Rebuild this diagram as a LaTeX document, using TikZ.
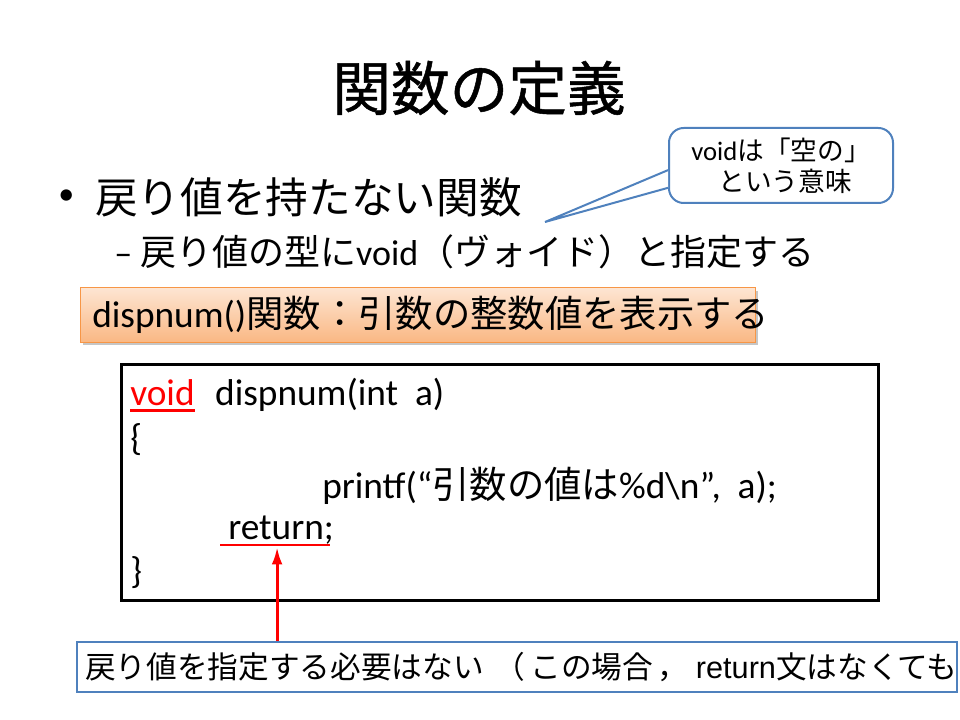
\documentclass[tikz,border=0pt]{standalone}
\usepackage{fontspec}
\setmainfont{Carlito}
\newfontfamily\jp{Noto Sans CJK JP}
\newfontfamily\jptitle[FakeBold=0.8]{Noto Sans CJK JP}
\newfontfamily\arialfont{Liberation Sans}
\usetikzlibrary{arrows.meta,positioning,shadows,calc}

\definecolor{calloutblue}{RGB}{79,129,189}
\definecolor{boxorange}{RGB}{247,150,70}
\definecolor{peachtop}{RGB}{253,229,210}
\definecolor{peachbot}{RGB}{250,184,132}

\tikzset{
  slidetitle/.style={font=\jptitle\fontsize{44}{52}\selectfont, inner sep=0pt},
  lvlone/.style={font=\fontsize{32}{38}\selectfont, anchor=west, inner sep=0pt},
  lvltwo/.style={font=\fontsize{27}{32}\selectfont, anchor=west, inner sep=0pt},
  code/.style={font=\fontsize{28}{34}\selectfont, anchor=base west, inner sep=0pt},
  callout/.style={draw=calloutblue, line width=1.5pt, fill=white, rounded corners=11pt,
    minimum width=168pt, minimum height=56.25pt, align=center, inner sep=0pt,
    font=\fontsize{20}{23}\selectfont},
  orangebox/.style={draw=boxorange, line width=0.75pt, top color=peachtop, bottom color=peachbot,
    minimum width=506.25pt, minimum height=40.5pt, inner sep=0pt,
    drop shadow={shadow xshift=2pt, shadow yshift=-2pt, opacity=0.45}},
  codebox/.style={draw=black, line width=2.25pt, minimum width=567.75pt, minimum height=177pt, inner sep=0pt},
  notebox/.style={draw=calloutblue, line width=1.5pt, minimum width=660pt, minimum height=37.5pt, inner sep=0pt},
  notetext/.style={font=\jp\fontsize{23}{27}\selectfont, anchor=west, inner sep=0pt},
  redline/.style={draw=red, line width=1.8pt},
  redarrow/.style={draw=red, line width=2.25pt, -{Latex[length=13pt,width=8pt]}}
}

\begin{document}
\begin{tikzpicture}[x=0.75pt,y=-0.75pt]
  %one unit is one pixel of the 960x720 slide, y runs downwards
  \useasboundingbox (0,0) rectangle (960,720);

  \node[slidetitle] (title) at (479,88) {関数の定義};

  \node[lvlone, font=\fontsize{24}{28}\selectfont] (dot) at (58,197) {•};
  \node[lvlone] (lvla) at (95,197) {\jp 戻り値を持たない関数};
  \node[lvltwo] (lvlb) at (114,252) {–\hspace{6pt}{\jp 戻り値の型に}void{\jp （ヴォイド）と指定する}};

  %callout with its pointer
  \node[callout] (call) at (781,165.5) {void{\jp は「空の」}\\\hspace{6pt}{\jp という意味}};
  \coordinate (tip) at (545,222);
  \coordinate (pa) at ($(call.north west)!0.56!(call.south west)$);
  \coordinate (pb) at ($(call.north west)!0.79!(call.south west)$);
  \fill[white] (pa) -- (tip) -- (pb) -- cycle;
  \draw[calloutblue, line width=1.5pt] (pa) -- (tip) -- (pb);

  \node[orangebox] (fbox) at (417.5,315) {};
  \node[lvltwo, font=\fontsize{28}{34}\selectfont] (ftext) at (92,315) {dispnum(){\jp 関数：引数の整数値を表示する}};

  %the code
  \node[codebox] (cbox) at (499.5,482) {};
  \node[code, red] (kw) at (130,405) {void};
  \node[code] (sig) at ([xshift=15pt]kw.base east) {dispnum(int\ \ a)};
  \node[code] (open) at (130,450) {\{};
  \node[code] (body) at (322,498) {printf(“{\jp 引数の値は}\%d\textbackslash n”,\ \ a);};
  \node[code] (ret) at (228,539) {return;};
  \node[code] (close) at (130,583) {\}};
  \draw[redline] ([yshift=-4pt]kw.base west) -- ([yshift=-4pt]kw.base east);
  \coordinate (uline) at ([xshift=-3pt,yshift=-4.5pt]ret.base);
  \draw[redline, line width=1.2pt] ([xshift=-6pt,yshift=-4.5pt]ret.base west) -- ([xshift=-3pt,yshift=-4.5pt]ret.base east);

  %note box, its text runs out over the right edge
  \node[notebox] (note) at (517,667) {};
  \begin{scope}
    \clip (note.south west) rectangle (note.north east);
    \node[notetext] (notetxt) at (85,667) {戻り値を指定する必要はない\hspace{8pt}（\hspace{4pt}この場合\hspace{3pt}，\hspace{6pt}{\arialfont return}文はなくても};
  \end{scope}
  \draw[redarrow] (note.north -| uline) -- ([yshift=-1.5pt]uline);
\end{tikzpicture}
\end{document}
